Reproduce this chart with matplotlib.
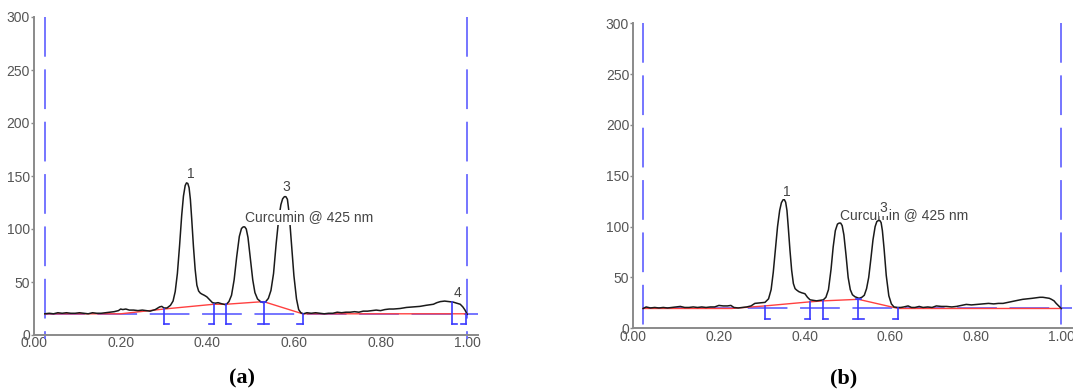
import matplotlib
matplotlib.use("Agg")
from matplotlib import pyplot as plt

# panel (a): chromatogram trace (retention factor, intensity)
a_x = [0.025, 0.035, 0.045, 0.055, 0.065, 0.075, 0.085, 0.095, 0.105, 0.115,
       0.125, 0.135, 0.145, 0.155, 0.165, 0.175, 0.185, 0.195, 0.200, 0.205,
       0.212, 0.220, 0.230, 0.240, 0.250, 0.260, 0.268, 0.280, 0.290, 0.295,
       0.300, 0.307, 0.315, 0.321, 0.326, 0.331, 0.336, 0.341, 0.345, 0.349,
       0.352, 0.355, 0.358, 0.361, 0.364, 0.368, 0.372, 0.376, 0.380, 0.384,
       0.388, 0.393, 0.399, 0.406, 0.412, 0.418, 0.425, 0.433, 0.443, 0.450,
       0.456, 0.462, 0.468, 0.474, 0.479, 0.483, 0.4865, 0.490, 0.494, 0.499,
       0.505, 0.510, 0.516, 0.523, 0.5296, 0.535, 0.541, 0.547, 0.553, 0.559,
       0.565, 0.570, 0.574, 0.578, 0.5815, 0.585, 0.589, 0.594, 0.600, 0.606,
       0.611, 0.616, 0.622,
       0.630, 0.640, 0.650, 0.660, 0.670, 0.680, 0.690, 0.700, 0.710, 0.720,
       0.730, 0.740, 0.750, 0.760, 0.770, 0.780, 0.790, 0.800, 0.810, 0.820,
       0.830, 0.845, 0.860, 0.875, 0.891, 0.905, 0.922, 0.930, 0.938, 0.948,
       0.958, 0.968, 0.976, 0.984, 0.990, 0.995, 1.000]
a_y = [20.0, 20.5, 20.0, 21.0, 20.5, 21.0, 20.5, 20.5, 21.0, 20.5,
       20.0, 21.0, 20.5, 20.5, 21.0, 21.5, 22.0, 23.0, 24.5, 24.0,
       24.5, 23.5, 23.5, 23.0, 23.5, 23.0, 22.5, 24.0, 26.5, 27.0,
       25.5, 25.5, 28.0, 32.0, 41.0, 58.0, 84.0, 113.0, 131.0, 141.0,
       143.5, 143.0, 139.0, 128.0, 110.0, 84.0, 62.0, 47.0, 41.5, 39.5,
       38.5, 37.5, 36.0, 33.0, 30.5, 30.0, 30.5, 29.5, 28.5, 31.5,
       37.5, 52.0, 74.0, 93.0, 100.5, 102.0, 102.0, 100.0, 92.0, 74.0,
       52.0, 40.0, 34.0, 31.5, 30.5, 31.5, 34.5, 42.0, 58.0, 86.0,
       110.0, 123.0, 128.5, 130.5, 130.5, 128.0, 115.0, 88.0, 56.0, 34.0,
       24.0, 21.0, 20.0,
       21.0, 20.5, 21.0, 20.5, 20.0, 20.5, 20.5, 21.5, 21.0, 21.5,
       21.5, 22.0, 21.5, 22.5, 22.5, 23.0, 23.5, 23.0, 24.0, 24.5,
       24.5, 25.0, 26.0, 26.5, 27.0, 28.0, 29.0, 30.5, 31.5, 32.0,
       31.5, 31.0, 30.0, 29.0, 26.5, 23.5, 19.5]

# panel (a): baseline and peak boundaries
a_base_x = [0.025, 0.20, 0.30, 0.415, 0.443, 0.53, 0.62, 1.0]
a_base_y = [20.0, 20.0, 24.5, 29.0, 29.0, 31.5, 20.0, 20.0]
a_level = 20.0
a_start, a_end = 0.025, 1.0
a_mark_x = [0.30, 0.415, 0.443, 0.53, 0.62, 0.965, 0.998]
a_mark_top = [24.5, 29.0, 29.0, 31.5, 20.0, 31.0, 20.0]
a_mark_kind = ["[", "]", "[", "I", "]", "[", "]"]
a_mark_bottom = 10.0
a_peak_labels = ["1", "3", "4"]
a_peak_pos = [(0.362, 152), (0.583, 140), (0.978, 40)]
a_title_pos = (0.487, 111)

# panel (b): chromatogram trace
b_x = [0.023, 0.030, 0.040, 0.050, 0.060, 0.070, 0.080, 0.090, 0.100, 0.110,
       0.120, 0.130, 0.140, 0.150, 0.160, 0.170, 0.180, 0.190, 0.200, 0.210,
       0.220, 0.228, 0.235, 0.245, 0.255, 0.265, 0.275, 0.284, 0.295, 0.3077,
       0.316, 0.322, 0.327, 0.332, 0.337, 0.342, 0.346, 0.350, 0.353, 0.356,
       0.359, 0.362, 0.366, 0.370, 0.374, 0.378, 0.382, 0.387, 0.393, 0.401,
       0.407, 0.413, 0.420, 0.428, 0.436, 0.444, 0.450, 0.456, 0.462, 0.467,
       0.472, 0.477, 0.481, 0.4845, 0.488, 0.492, 0.497, 0.502, 0.507, 0.512,
       0.518, 0.5274, 0.534, 0.5397, 0.545, 0.550, 0.555, 0.560, 0.565, 0.569,
       0.5725, 0.576, 0.579, 0.582, 0.586, 0.591, 0.597, 0.603, 0.609, 0.6178,
       0.625, 0.632, 0.642, 0.650, 0.658,
       0.668, 0.677, 0.688, 0.698, 0.708, 0.720, 0.732, 0.744, 0.755, 0.766,
       0.778, 0.790, 0.803, 0.817, 0.830, 0.842, 0.853, 0.864, 0.875, 0.887,
       0.898, 0.910, 0.922, 0.932, 0.942, 0.950, 0.957, 0.965, 0.972, 0.977,
       0.983, 0.988, 0.994, 1.000]
b_y = [19.5, 21.0, 20.0, 20.5, 20.0, 20.5, 20.0, 20.5, 21.0, 21.5,
       20.5, 20.5, 21.0, 20.5, 21.0, 20.5, 21.0, 21.0, 22.5, 22.0,
       22.0, 22.5, 20.5, 20.0, 20.5, 21.0, 22.0, 24.5, 25.0, 25.5,
       29.0, 38.0, 55.0, 78.0, 100.0, 116.0, 123.5, 126.5, 126.5, 124.0,
       116.0, 100.0, 77.0, 57.0, 44.0, 39.0, 37.5, 36.0, 35.0, 34.0,
       30.5, 28.0, 27.5, 27.0, 27.5, 28.0, 30.5, 38.0, 58.0, 80.0,
       96.0, 102.5, 103.5, 103.5, 101.0, 92.0, 72.0, 50.0, 38.0, 33.0,
       31.0, 29.5, 30.5, 32.5, 39.0, 50.0, 68.0, 87.0, 100.0, 105.0,
       106.0, 106.0, 104.0, 96.0, 78.0, 52.0, 32.0, 24.0, 21.0, 20.5,
       20.5, 21.0, 22.0, 20.5, 20.5,
       21.5, 20.5, 21.0, 20.5, 22.0, 21.5, 21.5, 21.0, 21.5, 22.5,
       23.5, 23.0, 23.5, 24.0, 24.5, 24.0, 24.5, 24.5, 25.5, 26.5,
       27.5, 28.5, 29.0, 29.5, 30.0, 30.5, 30.5, 30.0, 29.5, 28.5,
       27.0, 24.5, 22.0, 19.5]

# panel (b): baseline and peak boundaries
b_base_x = [0.023, 0.23, 0.307, 0.412, 0.444, 0.526, 0.619, 1.0]
b_base_y = [19.5, 19.5, 22.0, 26.0, 27.0, 28.5, 19.5, 19.5]
b_level = 19.5
b_start, b_end = 0.023, 1.0
b_mark_x = [0.307, 0.412, 0.444, 0.526, 0.619]
b_mark_top = [22.0, 26.0, 27.0, 28.5, 19.5]
b_mark_kind = ["[", "]", "[", "I", "]"]
b_mark_bottom = 9.0
b_peak_labels = ["1", "3"]
b_peak_pos = [(0.358, 134), (0.585, 118)]
b_title_pos = (0.484, 111.5)

x_ticks = [0.0, 0.2, 0.4, 0.6, 0.8, 1.0]
y_ticks = [0, 50, 100, 150, 200, 250, 300]

plt.rcParams["font.family"] = ["Liberation Sans", "DejaVu Sans"]

BLUE_DASH = "#6a6aff"
BLUE = "#3a3aff"
GREY = "#555555"


def draw_panel(ax, xs, ys, bx, by, level, start, end, mx, mtop, mkind, mbot,
               labels, lpos, tpos, text_on_top):
    ax.set_xlim(0, 1.025)
    ax.set_ylim(0, 300)
    for s in ["top", "right"]:
        ax.spines[s].set_visible(False)
    for s in ["left", "bottom"]:
        ax.spines[s].set_color("#8a8a8a")
        ax.spines[s].set_linewidth(1.4)
    ax.set_xticks(x_ticks)
    ax.set_xticklabels(["%.2f" % v for v in x_ticks])
    ax.set_yticks(y_ticks)
    ax.tick_params(axis="x", length=0, pad=1, labelsize=10, labelcolor=GREY)
    ax.tick_params(axis="y", length=2.5, width=1, color="#8a8a8a", pad=0.5,
                   labelsize=10, labelcolor=GREY)

    # run limits
    for xv in [start, end]:
        ax.plot([xv, xv], [300, -4], color=BLUE_DASH, lw=1.3,
                dashes=(22, 7), clip_on=False, zorder=2)
    ax.plot([start, 1.025], [level, level], color=BLUE_DASH, lw=1.3,
            dashes=(22, 7), zorder=2)

    ax.plot(bx, by, color="#ff4040", lw=1.0, zorder=2.5)
    ax.plot(xs, ys, color="#1a1a1a", lw=1.1, zorder=3)

    foot = 0.012
    for xv, top, kind in zip(mx, mtop, mkind):
        ax.plot([xv, xv], [top, mbot], color=BLUE, lw=1.2, zorder=3.5)
        if kind == "[":
            ax.plot([xv, xv + foot], [mbot, mbot], color=BLUE, lw=1.2, zorder=3.5)
        elif kind == "]":
            ax.plot([xv - foot, xv], [mbot, mbot], color=BLUE, lw=1.2, zorder=3.5)
        else:
            ax.plot([xv - foot, xv + foot], [mbot, mbot], color=BLUE, lw=1.2, zorder=3.5)
            ax.plot([xv - foot / 2, xv + foot / 2], [top, top], color=BLUE, lw=1.2, zorder=3.5)

    if text_on_top:
        ax.text(tpos[0], tpos[1], "Curcumin @ 425 nm", fontsize=10, color="#444444",
                va="center", ha="left", zorder=5,
                bbox=dict(facecolor="white", edgecolor="none", pad=0.5))
    else:
        ax.text(tpos[0], tpos[1], "Curcumin @ 425 nm", fontsize=10, color="#444444",
                va="center", ha="left", zorder=2)
    for lab, (lx, ly) in zip(labels, lpos):
        ax.text(lx, ly, lab, fontsize=10, color="#444444", ha="center", va="center",
                zorder=4, bbox=dict(facecolor="white", edgecolor="none", pad=0.3))


fig = plt.figure(figsize=(10.73, 3.92), dpi=100)

ax1 = fig.add_axes([34 / 1073, 1 - 335 / 392, 444 / 1073, 318 / 392])
draw_panel(ax1, a_x, a_y, a_base_x, a_base_y, a_level, a_start, a_end,
           a_mark_x, a_mark_top, a_mark_kind, a_mark_bottom,
           a_peak_labels, a_peak_pos, a_title_pos, True)

ax2 = fig.add_axes([633.3 / 1073, 1 - 328.3 / 392, 438.7 / 1073, 305 / 392])
draw_panel(ax2, b_x, b_y, b_base_x, b_base_y, b_level, b_start, b_end,
           b_mark_x, b_mark_top, b_mark_kind, b_mark_bottom,
           b_peak_labels, b_peak_pos, b_title_pos, False)

fig.text(242 / 1073, 1 - 378 / 392, "(a)", family="Liberation Serif",
         fontweight="bold", fontsize=16, ha="center", va="center")
fig.text(844 / 1073, 1 - 378 / 392, "(b)", family="Liberation Serif",
         fontweight="bold", fontsize=16, ha="center", va="center")

fig.savefig("out.png", dpi=100, facecolor="white")
